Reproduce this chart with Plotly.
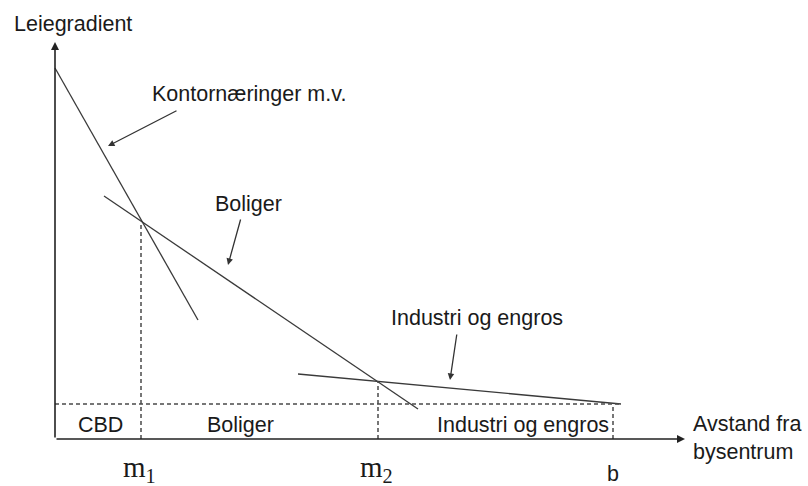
import plotly.graph_objects as go

# Bid-rent lines (distance, rent) in chart units
kontor_x = [0, 14.3]
kontor_y = [37.1, 11.9]
boliger_x = [4.9, 36.3]
boliger_y = [24.3, 3.0]
industri_x = [24.3, 56.6]
industri_y = [6.5, 3.5]

# Zone boundaries
zone_level = 3.5
m1, m1_top = 8.6, 21.7
m2, m2_top = 32.3, 5.8
b, b_top = 55.8, 3.2

x_axis_end = 63.0
y_axis_end = 39.7

SANS = "Liberation Sans, Arial, sans-serif"
SERIF = "Liberation Serif, Times New Roman, serif"
LINE = "#3a3a3a"
TXT = "#1a1a1a"
FS = 21.5

fig = go.Figure()

for xs, ys in [(kontor_x, kontor_y), (boliger_x, boliger_y), (industri_x, industri_y)]:
    fig.add_trace(go.Scatter(x=xs, y=ys, mode="lines",
                             line=dict(color=LINE, width=1.3), showlegend=False, hoverinfo="skip"))

# dashed zone lines
dash = dict(color="#4a4a4a", width=1.5, dash="4px,3px")
fig.add_trace(go.Scatter(x=[0, industri_x[1]], y=[zone_level, zone_level], mode="lines",
                         line=dash, showlegend=False, hoverinfo="skip"))
for xv, top in [(m1, m1_top), (m2, m2_top), (b, b_top)]:
    fig.add_trace(go.Scatter(x=[xv, xv], y=[0, top], mode="lines",
                             line=dash, showlegend=False, hoverinfo="skip"))

# axes with arrowheads
fig.add_annotation(x=x_axis_end, y=0, ax=0, ay=0, xref="x", yref="y", axref="x", ayref="y",
                   text="", showarrow=True, arrowhead=2, arrowsize=1, arrowwidth=1.6,
                   arrowcolor="#222222", standoff=0)
fig.add_annotation(x=0, y=y_axis_end, ax=0, ay=0, xref="x", yref="y", axref="x", ayref="y",
                   text="", showarrow=True, arrowhead=2, arrowsize=1, arrowwidth=1.6,
                   arrowcolor="#222222", standoff=0)

# pointer arrows
for (tx, ty, hx, hy) in [(12.3, 32.9, 5.3, 29.3), (18.6, 22.1, 17.3, 17.4), (40.2, 10.6, 39.5, 5.9)]:
    fig.add_annotation(x=hx, y=hy, ax=tx, ay=ty, xref="x", yref="y", axref="x", ayref="y",
                       text="", showarrow=True, arrowhead=2, arrowsize=1, arrowwidth=1.3,
                       arrowcolor="#333333", standoff=0)

labels = [
    ("Leiegradient", 1.8, 41.5),
    ("Kontornæringer m.v.", 19.4, 34.5),
    ("Boliger", 19.3, 23.5),
    ("Industri og engros", 42.2, 12.1),
    ("CBD", 4.55, 1.4),
    ("Boliger", 18.55, 1.4),
    ("Industri og engros", 46.8, 1.4),
    ("b", b, -3.5),
]
for t, x, y in labels:
    fig.add_annotation(x=x, y=y, xref="x", yref="y", text=t, showarrow=False,
                       font=dict(family=SANS, size=FS, color=TXT), xanchor="center", yanchor="middle")

fig.add_annotation(x=63.6, y=0.1, xref="x", yref="y", text="Avstand fra<br>bysentrum",
                   showarrow=False, align="left", xanchor="left", yanchor="middle",
                   font=dict(family=SANS, size=FS, color=TXT))

for t, x in [("m<sub>1</sub>", m1), ("m<sub>2</sub>", m2)]:
    fig.add_annotation(x=x - 0.2, y=-3.0, xref="x", yref="y", text=t, showarrow=False,
                       font=dict(family=SERIF, size=29, color=TXT), xanchor="center", yanchor="middle")

fig.update_layout(
    width=808, height=486,
    margin=dict(l=0, r=0, t=0, b=0),
    paper_bgcolor="white", plot_bgcolor="white",
    xaxis=dict(range=[-5.5, 75.3], visible=False, fixedrange=True),
    yaxis=dict(range=[-4.7, 43.9], visible=False, fixedrange=True),
    showlegend=False,
)

fig.write_html("out.html", config={"displayModeBar": False},
               post_script="document.body.style.margin='0';document.body.style.overflow='hidden';")
